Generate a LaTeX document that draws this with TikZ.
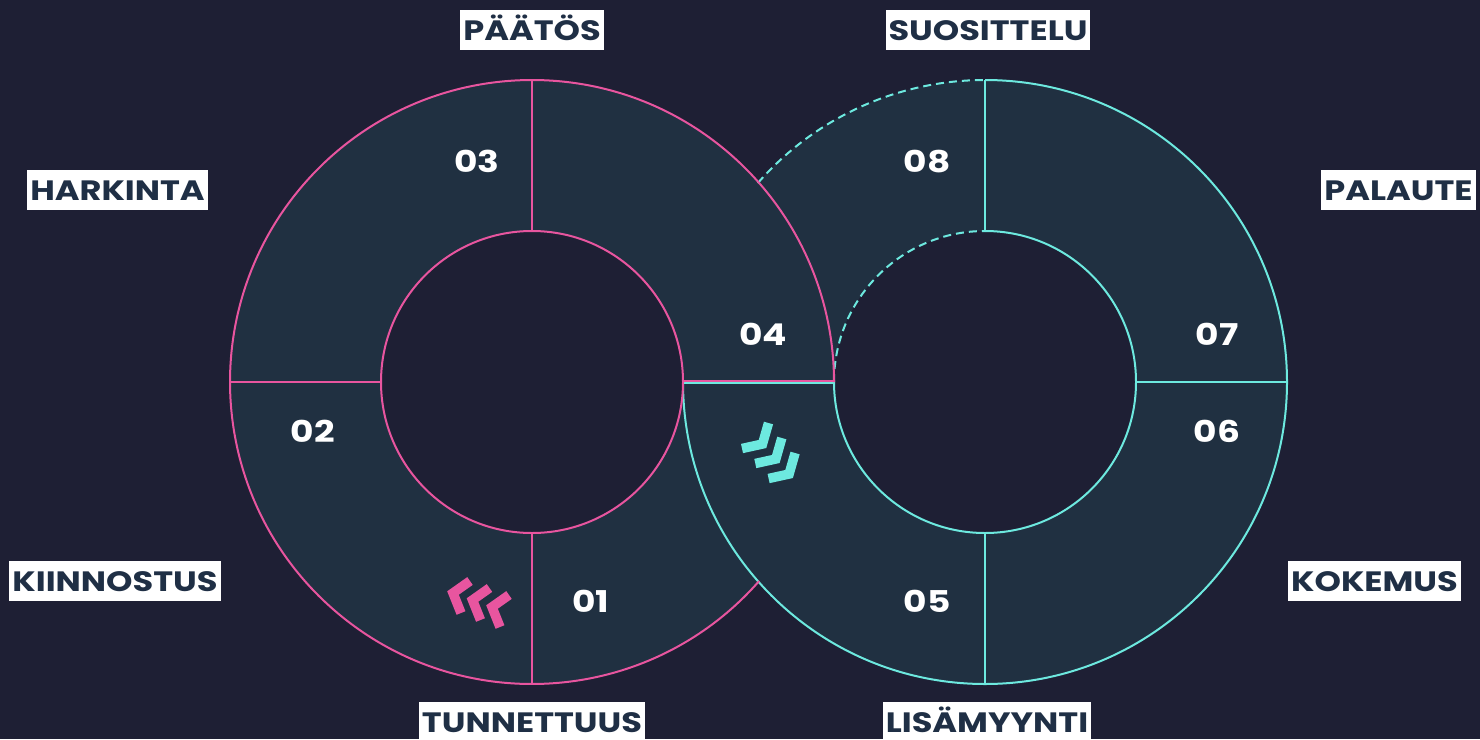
\documentclass[tikz,border=0pt]{standalone}
\usepackage{fontspec}
\setmainfont{Poppins}
\newfontfamily\widefont{Poppins}[FakeStretch=1.2]
\usetikzlibrary{calc}
\definecolor{bgc}{HTML}{1E1F34}
\definecolor{ringfill}{HTML}{203041}
\definecolor{pinkc}{HTML}{E8559F}
\definecolor{cyanc}{HTML}{6DE9DF}
\definecolor{labtext}{HTML}{1F2F45}
\tikzset{
  pinkline/.style={draw=pinkc, line width=2pt},
  cyanline/.style={draw=cyanc, line width=2pt},
  dashline/.style={draw=cyanc, line width=2pt, dash pattern=on 8pt off 5pt},
  lab/.style={fill=white, text=labtext, font=\widefont\fontsize{28}{28}\selectfont\bfseries,
    text height=20pt, text depth=0pt, inner xsep=3pt, inner ysep=10pt},
  num/.style={text=white, font=\widefont\fontsize{30}{30}\selectfont\bfseries,
    text height=21pt, text depth=0pt, inner sep=0pt},
  chevp/.style={draw=pinkc, line width=9.5pt, line join=miter, miter limit=10},
  chevc/.style={draw=cyanc, line width=9.5pt, line join=miter, miter limit=10}
}
\begin{document}
\begin{tikzpicture}[x=1pt,y=-1pt]
\useasboundingbox (0,0) rectangle (1480,739);
\fill[bgc] (0,0) rectangle (1480,739);
\coordinate (L) at (532,382);
\coordinate (R) at (985,382);
% fills
\fill[ringfill, even odd rule] (R) circle[radius=302] (R) circle[radius=151];
\fill[ringfill, even odd rule] (L) circle[radius=302] (L) circle[radius=151];
% right ring strokes
\draw[dashline] ([shift={(221.2:302)}]R) arc[start angle=221.2, end angle=270, radius=302];
\draw[dashline] ([shift={(180:151)}]R) arc[start angle=180, end angle=270, radius=151];
\draw[cyanline] ([shift={(-90:302)}]R) arc[start angle=-90, end angle=180, radius=302];
\draw[cyanline] ([shift={(-90:151)}]R) arc[start angle=-90, end angle=180, radius=151];
\coordinate (rt1) at (985,80);  \coordinate (rt2) at (985,231);
\coordinate (rr1) at (1136,382); \coordinate (rr2) at (1287,382);
\coordinate (rb1) at (985,533); \coordinate (rb2) at (985,684);
\coordinate (rl1) at (684,383); \coordinate (rl2) at (834,383);
\draw[cyanline] (rt1) -- (rt2);
\draw[cyanline] (rr1) -- (rr2);
\draw[cyanline] (rb1) -- (rb2);
\draw[cyanline] (rl1) -- (rl2);
% left ring strokes
\draw[pinkline] ([shift={(41.2:302)}]L) arc[start angle=41.2, end angle=360, radius=302];
\draw[pinkline] (L) circle[radius=151];
\coordinate (lt1) at (532,80);  \coordinate (lt2) at (532,231);
\coordinate (ll1) at (230,382); \coordinate (ll2) at (381,382);
\coordinate (lb1) at (532,533); \coordinate (lb2) at (532,684);
\coordinate (lr1) at (683,381); \coordinate (lr2) at (833,381);
\draw[pinkline] (lt1) -- (lt2);
\draw[pinkline] (ll1) -- (ll2);
\draw[pinkline] (lb1) -- (lb2);
\draw[pinkline] (lr1) -- (lr2);
% chevrons
\foreach \k in {0,1,2} {
  \draw[chevp] ($(470,581)+\k*(19.5,7)$) -- ($(453,593)+\k*(19.5,7)$) -- ($(461,613)+\k*(19.5,7)$);
  \draw[chevc] ($(768.5,423)+\k*(13.3,15)$) -- ($(762.5,444)+\k*(13.3,15)$) -- ($(742,448.5)+\k*(13.3,15)$);
}
% numbers
\node[num] (n01) at (591,602) {01};
\node[num] (n02) at (313,432) {02};
\node[num] (n03) at (477,162) {03};
\node[num] (n04) at (763,335) {04};
\node[num] (n05) at (927,602) {05};
\node[num] (n06) at (1217,432) {06};
\node[num] (n07) at (1217,335) {07};
\node[num] (n08) at (927,162) {08};
% labels
\node[lab] (paatos) at (532,30) {PÄÄTÖS};
\node[lab] (suos) at (988,30) {SUOSITTELU};
\node[lab] (hark) at (117.5,190) {HARKINTA};
\node[lab] (pal) at (1398.5,190) {PALAUTE};
\node[lab] (kiin) at (115,581) {KIINNOSTUS};
\node[lab] (kok) at (1374.5,581) {KOKEMUS};
\node[lab] (tunn) at (532,722) {TUNNETTUUS};
\node[lab] (lisa) at (987,722) {LISÄMYYNTI};
\end{tikzpicture}
\end{document}
